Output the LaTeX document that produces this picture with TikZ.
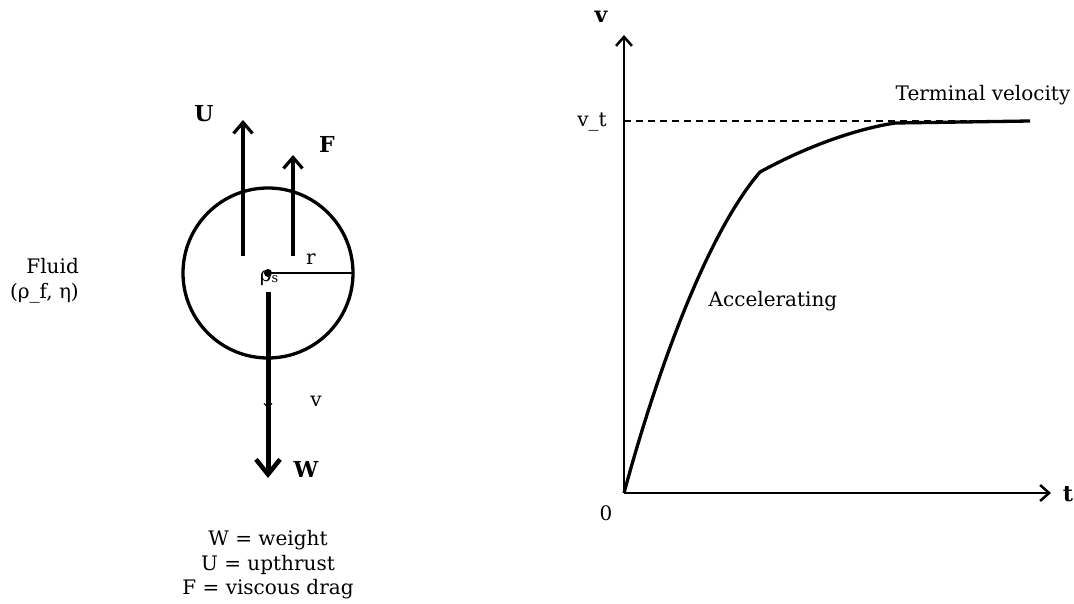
\documentclass[tikz,border=0pt]{standalone}
\usepackage{fontspec}
\setmainfont{DejaVu Serif}
\usetikzlibrary{arrows.meta}
\begin{document}
\begin{tikzpicture}[x=1pt,y=-1pt,
  lbl/.style={inner sep=0pt,font=\fontsize{20}{24.5}\selectfont},
  blbl/.style={inner sep=0pt,font=\fontsize{22}{24}\selectfont\bfseries},
  force/.style={line width=3.4pt,-{Straight Barb[length=11pt,width=19pt,line width=3.2pt]}},
  heavy/.style={line width=5pt,-{Straight Barb[length=15pt,width=24pt,line width=4.5pt]}},
  axis/.style={line width=2.7pt,-{Straight Barb[length=9pt,width=16pt,line width=2.5pt]}},
  curve/.style={line width=3.3pt}]
\useasboundingbox (0,0) rectangle (1074,604);
% ---- left: sphere ----
\coordinate (c) at (268,273);
\node[circle,draw,line width=3.3pt,minimum size=170pt,inner sep=0pt] (ball) at (c) {};
\fill (c) circle (4pt);
\coordinate (re) at (353,273);
\draw[line width=1.2pt] (c) -- (re);
\node[lbl] (r) at (311,259) {r};
\node[lbl] (rho) at (269,278) {ρ{\fontsize{13}{13}\selectfont\raisebox{-1pt}{s}}};
% forces
\coordinate (u0) at (243,256); \coordinate (u1) at (243,120);
\draw[force] (u0) -- (u1);
\node[blbl] (U) at (204,114) {U};
\coordinate (f0) at (293,256); \coordinate (f1) at (293,155);
\draw[force] (f0) -- (f1);
\node[blbl] (F) at (327,144) {F};
\coordinate (w0) at (268,292); \coordinate (w1) at (268,478);
\draw[line width=1pt,-{Straight Barb[length=5pt,width=8pt,line width=1pt]}] (w0) -- (268,409) coordinate (v1);
\draw[heavy] (w0) -- (w1);
\node[blbl] (W) at (306,469) {W};
\node[lbl] (v) at (316,401) {v};
\node[lbl,anchor=east,align=right] (fluid) at (79,281) {Fluid\\(ρ\_f, η)};
\node[lbl,align=center] (legend) at (268,565) {W = weight\\U = upthrust\\F = viscous drag};
% ---- right: graph ----
\coordinate (o) at (624,493);
\coordinate (ytop) at (624,35);
\coordinate (xend) at (1051,493);
\draw[axis] (o) -- (ytop);
\draw[axis] (o) -- (xend);
\node[blbl] (vax) at (601,17) {v};
\node[blbl] (tax) at (1068,494) {t};
\node[lbl] (zero) at (606,513) {0};
\node[lbl] (vt) at (592,122) {v\_t};
\coordinate (vt0) at (624,121); \coordinate (vt1) at (1030,121);
\draw[line width=1.3pt,dash pattern=on 7pt off 5pt] (vt0) -- (vt1);
\coordinate (k1) at (760,172); \coordinate (k2) at (895,123);
\draw[curve,line join=round] (o) .. controls (660,360) and (710,230) .. (k1)
  .. controls (800,150) and (850,130) .. (k2) -- (vt1);
\node[lbl] (acc) at (773,301) {Accelerating};
\node[lbl] (term) at (983,95) {Terminal velocity};
\end{tikzpicture}
\end{document}
